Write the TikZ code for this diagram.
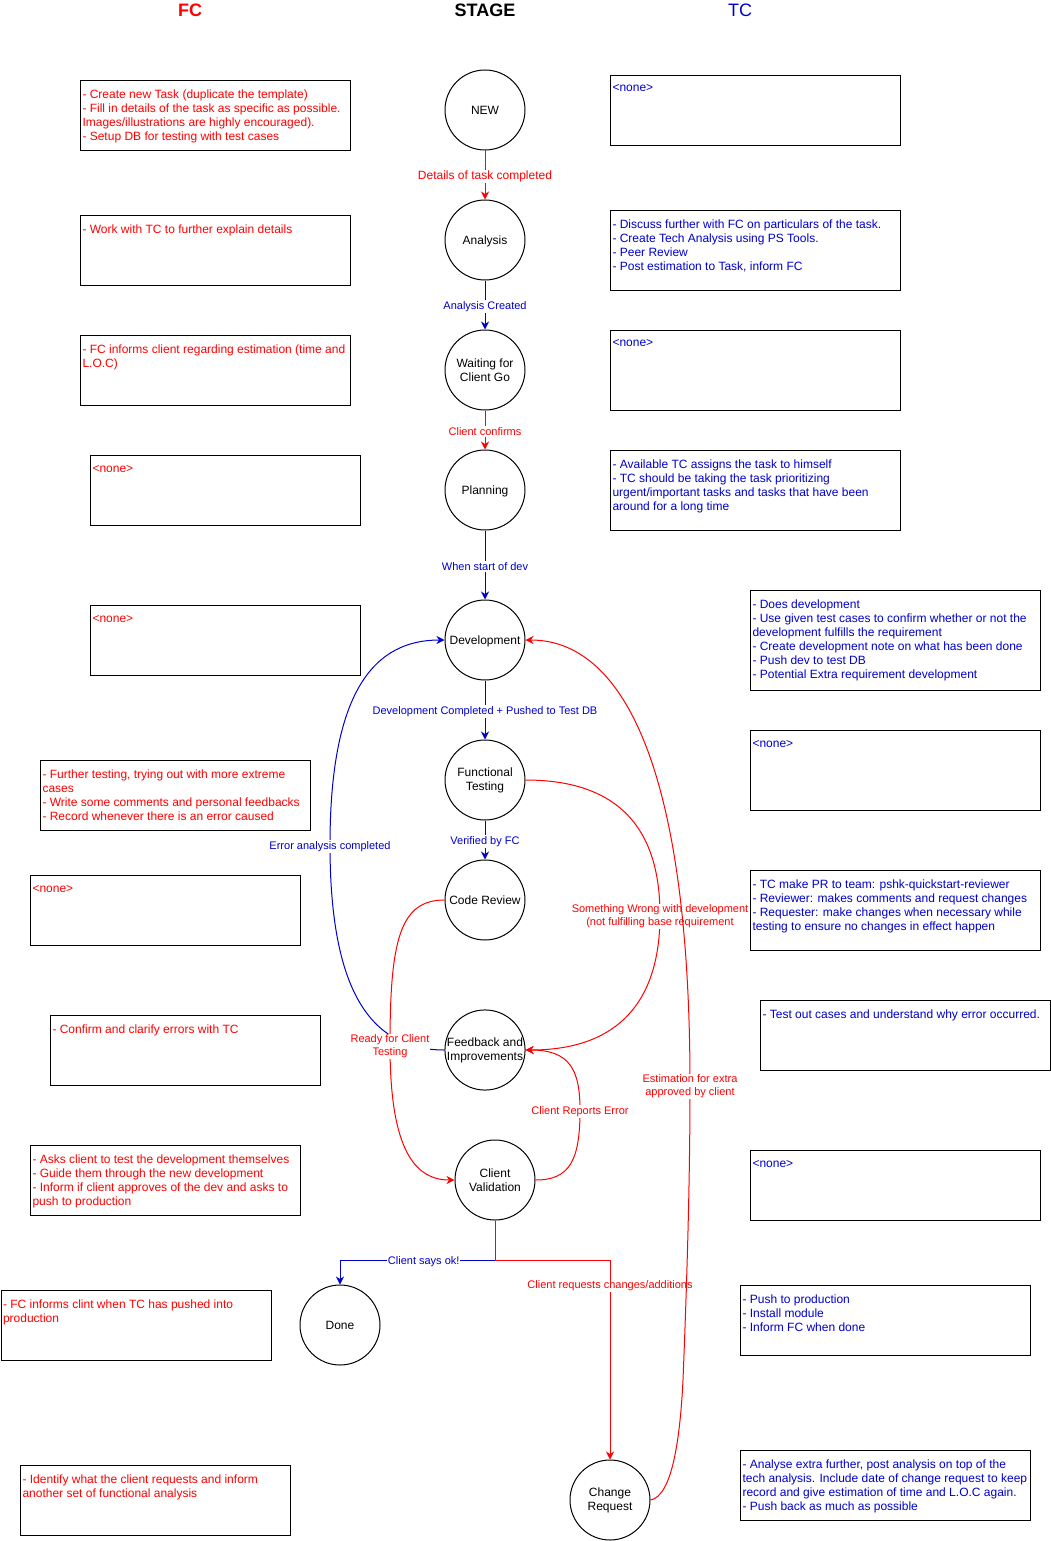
\documentclass[tikz,border=0pt]{standalone}
\usepackage{fontspec}
\setmainfont{Liberation Sans}
\usetikzlibrary{arrows.meta}
\definecolor{fcred}{HTML}{FF0000}
\definecolor{tcblue}{HTML}{0000CC}

% a framed note with its text set at the top left corner
\newcommand\putnote[7]{%
  \node[note,minimum width=#4pt,minimum height=#5pt] (#1) at (#2,#3) {};
  \node[#6] (#1-text) at ({#2+2},{#3+9.5}) {#7};
}

\begin{document}
\begin{tikzpicture}[x=1pt,y=-1pt,line width=1pt,
  stage/.style={circle,draw=black,minimum size=80pt,inner sep=0pt,align=center,
    font=\fontsize{12}{14}\selectfont},
  oneline/.style={text depth=0pt},
  note/.style={draw=black,anchor=north west,inner sep=0pt},
  notetext/.style={anchor=north west,inner sep=0pt,align=left,
    font=\fontsize{12}{14}\selectfont},
  fctext/.style={notetext,text=fcred},
  tctext/.style={notetext,text=tcblue},
  flow/.style={-{Stealth[length=8pt,width=8pt,inset=2.5pt]}},
  redflow/.style={flow,draw=fcred},
  blueflow/.style={flow,draw=tcblue},
  lbl/.style={fill=white,inner sep=1pt,align=center,yshift=-1.5pt,
    font=\fontsize{11}{13}\selectfont},
  redlbl/.style={lbl,text=fcred},
  bluelbl/.style={lbl,text=tcblue},
  heading/.style={font=\fontsize{18}{20}\selectfont},
]
\useasboundingbox (0,0) rectangle (1051,1541);

% column headings
\node[heading,text=fcred,font=\fontsize{18}{20}\selectfont\bfseries] (hfc) at (190,10) {FC};
\node[heading,text=black,font=\fontsize{18}{20}\selectfont\bfseries] (hstage) at (485,10) {STAGE};
\node[heading,text=tcblue] (htc) at (740,10) {TC};

% stages
\node[stage] (new) at (485,110) {NEW};
\node[stage,oneline] (analysis) at (485,240) {Analysis};
\node[stage] (waiting) at (485,370) {Waiting for\\Client Go};
\node[stage,oneline] (planning) at (485,490) {Planning};
\node[stage,oneline] (dev) at (485,640) {Development};
\node[stage] (ftest) at (485,780) {Functional\\Testing};
\node[stage] (review) at (485,900) {Code Review};
\node[stage] (feedback) at (485,1050) {Feedback and\\Improvements};
\node[stage] (cvalid) at (495,1180) {Client\\Validation};
\node[stage] (done) at (340,1325) {Done};
\node[stage] (change) at (610,1500) {Change\\Request};

% FC duties
\putnote{fc1}{80}{80}{270}{70}{fctext}{- Create new Task (duplicate the template)\\- Fill in details of the task as specific as possible.\\Images/illustrations are highly encouraged).\\- Setup DB for testing with test cases}
\putnote{fc2}{80}{215}{270}{70}{fctext}{- Work with TC to further explain details}
\putnote{fc3}{80}{335}{270}{70}{fctext}{- FC informs client regarding estimation (time and\\L.O.C)}
\putnote{fc4}{90}{455}{270}{70}{fctext}{<none>}
\putnote{fc5}{90}{605}{270}{70}{fctext}{<none>}
\putnote{fc6}{40}{760}{270}{70}{fctext}{- Further testing, trying out with more extreme\\cases\\- Write some comments and personal feedbacks\\- Record whenever there is an error caused}
\putnote{fc7}{30}{875}{270}{70}{fctext}{<none>}
\putnote{fc8}{50}{1015}{270}{70}{fctext}{- Confirm and clarify errors with TC}
\putnote{fc9}{30}{1145}{270}{70}{fctext}{- Asks client to test the development themselves\\- Guide them through the new development\\- Inform if client approves of the dev and asks to\\push to production}
\putnote{fc10}{0.5}{1290}{270}{70}{fctext}{- FC informs clint when TC has pushed into\\production}
\putnote{fc11}{20}{1465}{270}{70}{fctext}{- Identify what the client requests and inform\\another set of functional analysis}

% TC duties
\putnote{tc1}{610}{75}{290}{70}{tctext}{<none>}
\putnote{tc2}{610}{210}{290}{80}{tctext}{- Discuss further with FC on particulars of the task.\\- Create Tech Analysis using PS Tools.\\- Peer Review\\- Post estimation to Task, inform FC}
\putnote{tc3}{610}{330}{290}{80}{tctext}{<none>}
\putnote{tc4}{610}{450}{290}{80}{tctext}{- Available TC assigns the task to himself\\- TC should be taking the task prioritizing\\urgent/important tasks and tasks that have been\\around for a long time}
\putnote{tc5}{750}{590}{290}{100}{tctext}{- Does development\\- Use given test cases to confirm whether or not the\\development fulfills the requirement\\- Create development note on what has been done\\- Push dev to test DB\\- Potential Extra requirement development}
\putnote{tc6}{750}{730}{290}{80}{tctext}{<none>}
\putnote{tc7}{750}{870}{290}{80}{tctext}{- TC make PR to team: pshk-quickstart-reviewer\\- Reviewer: makes comments and request changes\\- Requester: make changes when necessary while\\testing to ensure no changes in effect happen}
\putnote{tc8}{760}{1000}{290}{70}{tctext}{- Test out cases and understand why error occurred.}
\putnote{tc9}{750}{1150}{290}{70}{tctext}{<none>}
\putnote{tc10}{740}{1285}{290}{70}{tctext}{- Push to production\\- Install module\\- Inform FC when done}
\putnote{tc11}{740}{1450}{290}{70}{tctext}{- Analyse extra further, post analysis on top of the\\tech analysis. Include date of change request to keep\\record and give estimation of time and L.O.C again.\\- Push back as much as possible}

% main line of stages
\draw[redflow] (new) -- node[redlbl,font=\fontsize{12}{13}\selectfont]{Details of task completed} (analysis);
\draw[blueflow] (analysis) -- node[bluelbl]{Analysis Created} (waiting);
\draw[redflow] (waiting) -- node[redlbl]{Client confirms} (planning);
\draw[blueflow] (planning) -- node[bluelbl]{When start of dev} (dev);
\draw[blueflow] (dev) -- node[bluelbl]{Development Completed + Pushed to Test DB} (ftest);
\draw[blueflow] (ftest) -- node[bluelbl]{Verified by FC} (review);

% loops back from feedback
\draw[blueflow] (feedback.west) .. controls (370,1050) and (330,990) .. (330,845)
  node[bluelbl]{Error analysis completed}
  .. controls (330,690) and (375,640) .. (dev.west);
\draw[redflow] (review.west) .. controls (400,900) and (390,940) .. (390,1045)
  node[redlbl]{Ready for Client\\Testing}
  .. controls (390,1140) and (410,1180) .. (cvalid.west);
\draw[redflow] (ftest.east) .. controls (610,780) and (660,820) .. (660,915)
  node[redlbl]{Something Wrong with development\\(not fulfilling base requirement}
  .. controls (660,1010) and (610,1050) .. (feedback.east);
\draw[redflow] (cvalid.east) .. controls (570,1180) and (580,1160) .. (580,1110)
  node[redlbl]{Client Reports Error}
  .. controls (580,1070) and (570,1050) .. (feedback.east);

% outcome of client validation
\draw[blueflow] (cvalid.south) -- ++(0,40) coordinate (split)
  -| node[bluelbl,pos=0.23]{Client says ok!} (done.north);
\draw[redflow] (cvalid.south) -- (split)
  -| node[redlbl,pos=0.56]{Client requests changes/additions} (change.north);

% change request returns to development
\draw[redflow] (change.east) .. controls (672,1496) and (680,1440) .. (683,1380)
  .. controls (687,1280) and (690,1180) .. (690,1085)
  node[redlbl]{Estimation for extra\\approved by client}
  .. controls (690,760) and (620,640) .. (dev.east);
\end{tikzpicture}
\end{document}
